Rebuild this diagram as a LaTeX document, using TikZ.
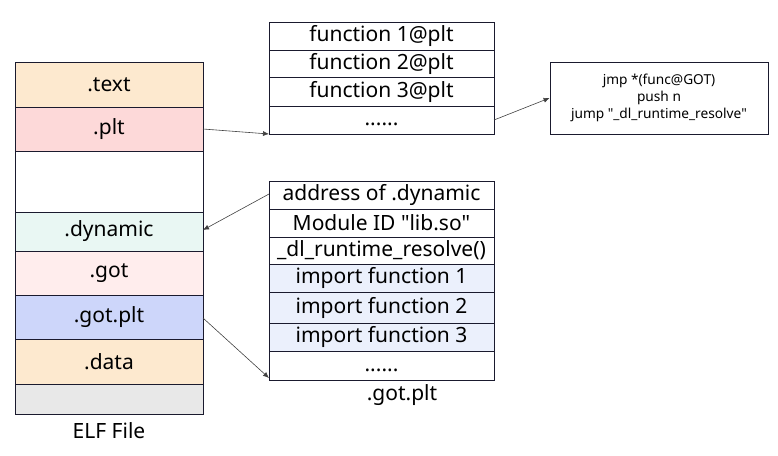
\documentclass[tikz,border=0pt]{standalone}
\usepackage{fontspec}
\setmainfont{Noto Sans}
\newfontfamily\qfont{Noto Sans}
\usetikzlibrary{arrows.meta}
\definecolor{ctext}{HTML}{FDE9CF}
\definecolor{cplt}{HTML}{FDD9D9}
\definecolor{cdyn}{HTML}{E9F7F3}
\definecolor{cgot}{HTML}{FFEDED}
\definecolor{cgotplt}{HTML}{CDD6FA}
\definecolor{cgrey}{HTML}{E8E8E8}
\definecolor{cimp}{HTML}{EBF0FC}
\definecolor{edge}{HTML}{1A1A2E}
\newcommand{\dq}{{\qfont"}}
\begin{document}
\begin{tikzpicture}[x=1pt,y=-1pt,
  cell/.style={draw=edge,line width=0.8pt,inner sep=0pt},
  big/.style={font=\fontsize{21}{24}\selectfont},
  conn/.style={draw=black!75,line width=0.6pt,-{Latex[length=6pt,width=5pt]}}]
\useasboundingbox (0,0) rectangle (778,455);
% ELF column
\def\L{15}\def\R{203}
\foreach \n/\a/\b/\c/\t in {text/62/107/ctext/.text, plt/107/151/cplt/.plt, blank/151/212/white/, dyn/212/251/cdyn/.dynamic, got/251/295/cgot/.got, gotplt/295/339/cgotplt/.got.plt, data/339/384/ctext/.data, grey/384/414/cgrey/}{
  \path[cell,fill=\c] (\L,\a) rectangle (\R,\b);
  \node[big] (e\n) at ({(\L+\R)/2},{(\a+\b)/2}) {\t};
}
\node[big] (elf) at (109,431) {ELF File};
% plt table
\def\PL{269}\def\PR{494}
\foreach \n/\a/\b/\t in {p1/22/50/function 1@plt, p2/50/77/function 2@plt, p3/77/106/function 3@plt, p4/106/134/}{
  \path[cell,fill=white] (\PL,\a) rectangle (\PR,\b);
  \node[big] (\n) at ({(\PL+\PR)/2},{(\a+\b)/2}) {\t};
}
\node[big] (pdots) at (381.5,124) {......};
\coordinate (pbl) at (\PL,134);
\coordinate (pr) at (\PR,120);
% right box
\node[cell,fill=white,minimum width=218pt,minimum height=72pt,align=center,font=\fontsize{13.7}{17}\selectfont] (stub) at (659,98) {jmp *(func@GOT)\\push n\\jump \dq\_dl\_runtime\_resolve\dq};
% got.plt table
\foreach \n/\a/\b/\c/\t in {g1/181/209/white/address of .dynamic, g2/209/237/white/Module ID \dq lib.so\dq, g3/237/264/white/\_dl\_runtime\_resolve(), g4/264/292/cimp/import function 1, g5/292/323/cimp/import function 2, g6/323/351/cimp/import function 3, g7/351/380/white/}{
  \path[cell,fill=\c] (\PL,\a) rectangle (\PR,\b);
  \node[big] (\n) at ({(\PL+\PR)/2},{(\a+\b)/2}) {\t};
}
\node[big] (gdots) at (381.5,370) {......};
\node[big] (gotlabel) at (402,395) {.got.plt};
\coordinate (gtl) at (\PL,194);
\coordinate (gbl) at (\PL,378);
% connectors
\draw[conn] (\R,129) -- (pbl);
\draw[conn] (pr) -- (stub.west);
\draw[conn] (gtl) -- (\R,230);
\draw[conn] (\R,318) -- (gbl);
\end{tikzpicture}
\end{document}
